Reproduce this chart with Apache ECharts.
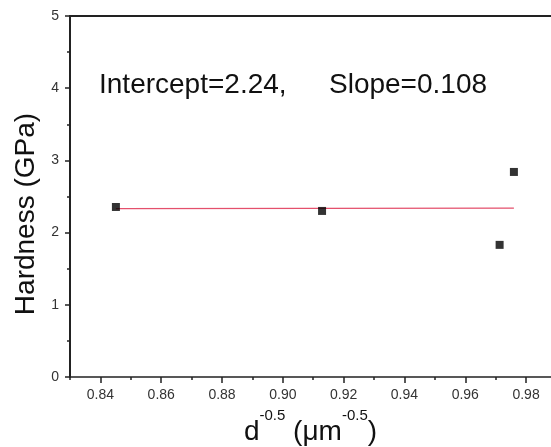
<!DOCTYPE html>
<html>
<head>
<meta charset="utf-8">
<script src="https://cdn.jsdelivr.net/npm/echarts@6/dist/echarts.min.js"></script>
<style>
html,body{margin:0;padding:0;background:#fff;}
#chart{width:551px;height:447px;}
</style>
</head>
<body>
<div id="chart"></div>
<script>
// Data
const grainInvSqrt = [0.8451, 0.9129, 0.9713, 0.9760];
const hardnessGPa = [2.355, 2.30, 1.83, 2.84];
const fitX = [0.8451, 0.9760];
const fitY = [2.332, 2.340];
const xMajorTicks = [0.84, 0.86, 0.88, 0.90, 0.92, 0.94, 0.96, 0.98];
const xMinorTicks = [0.83, 0.85, 0.87, 0.89, 0.91, 0.93, 0.95, 0.97];
const annotationLeft = 'Intercept=2.24,';
const annotationRight = 'Slope=0.108';

const FONT = 'Liberation Sans, Arial, sans-serif';
const chart = echarts.init(document.getElementById('chart'), null, {renderer: 'canvas'});

const scatterData = grainInvSqrt.map((x, i) => [x, hardnessGPa[i]]);
const fitData = fitX.map((x, i) => [x, fitY[i]]);

const option = {
  animation: false,
  backgroundColor: '#fff',
  grid: {left: 70, right: 0, top: 16, bottom: 70, containLabel: false, outerBoundsMode: 'none'},
  xAxis: [
    {
      type: 'value', position: 'bottom', min: 0.83, max: 0.9882,
      axisLine: {show: true, lineStyle: {color: '#222', width: 1.5}},
      axisTick: {show: true, inside: false, length: 6, customValues: xMajorTicks, lineStyle: {color: '#222', width: 1.5}},
      axisLabel: {show: true, customValues: xMajorTicks, margin: 11, fontSize: 14, fontFamily: FONT, color: '#333',
        formatter: v => v.toFixed(2)},
      splitLine: {show: false},
      name: '{n|d}{s|-0.5}{n| (\u03bcm}{s|-0.5}{n|)}',
      nameLocation: 'middle', nameGap: 31,
      nameTextStyle: {
        rich: {
          n: {fontSize: 28, fontFamily: FONT, color: '#111', lineHeight: 38, verticalAlign: 'bottom'},
          s: {fontSize: 15, fontFamily: FONT, color: '#111', lineHeight: 16, verticalAlign: 'top'}
        }
      }
    },
    {
      type: 'value', position: 'bottom', min: 0.83, max: 0.9882,
      axisLine: {show: false},
      axisTick: {show: true, inside: false, length: 3, customValues: xMinorTicks, lineStyle: {color: '#222', width: 1.5}},
      axisLabel: {show: false},
      splitLine: {show: false}
    },
    {
      type: 'value', position: 'top', min: 0.83, max: 0.9882,
      axisLine: {show: true, lineStyle: {color: '#222', width: 2}},
      axisTick: {show: false}, axisLabel: {show: false}, splitLine: {show: false}
    }
  ],
  yAxis: [
    {
      type: 'value', position: 'left', min: 0, max: 5, interval: 1,
      axisLine: {show: true, lineStyle: {color: '#222', width: 2}},
      axisTick: {show: true, inside: false, length: 5, lineStyle: {color: '#222', width: 1.5}},
      minorTick: {show: true, splitNumber: 2, length: 3, lineStyle: {color: '#222', width: 1.5}},
      axisLabel: {margin: 11, fontSize: 14, fontFamily: FONT, color: '#333'},
      splitLine: {show: false},
      name: 'Hardness (GPa)', nameLocation: 'middle', nameGap: 28,
      nameTextStyle: {fontSize: 28, fontFamily: FONT, color: '#111', padding: [0, 35, 0, 0]}
    }
  ],
  series: [
    {
      type: 'line', data: fitData, xAxisIndex: 0, yAxisIndex: 0,
      showSymbol: false, symbol: 'none',
      lineStyle: {color: '#e4506c', width: 1.2}, z: 2
    },
    {
      type: 'scatter', data: scatterData, xAxisIndex: 0, yAxisIndex: 0,
      symbol: 'rect', symbolSize: 8,
      itemStyle: {color: '#000'}, z: 3
    }
  ],
  graphic: [
    {type: 'text', left: 99, top: 71, style: {text: annotationLeft, fontSize: 28, fontFamily: FONT, fill: '#111'}},
    {type: 'text', left: 329, top: 71, style: {text: annotationRight, fontSize: 28, fontFamily: FONT, fill: '#111'}}
  ]
};
chart.setOption(option);
</script>
</body>
</html>
